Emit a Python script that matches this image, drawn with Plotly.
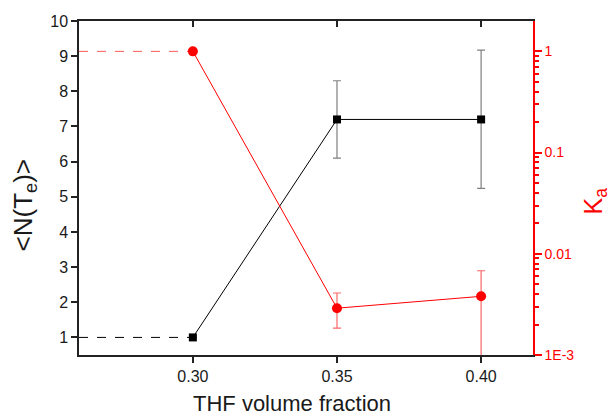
import plotly.graph_objects as go

# ---- data ----
thf = [0.30, 0.35, 0.40]
n_te = [1.0, 7.2, 7.2]
n_te_err_plus = [None, 1.1, 1.97]
n_te_err_minus = [None, 1.1, 1.96]
ka = [1.0, 0.0029, 0.0038]
ka_err_plus = [None, 0.0012, 0.0030]
ka_err_minus = [None, 0.00106, 0.0033]

x_tickvals = [0.30, 0.35, 0.40]
x_ticktext = ["0.30", "0.35", "0.40"]
y2_tickvals = [1, 0.1, 0.01, 0.001]
y2_ticktext = ["1", "0.1", "0.01", "1E-3"]
y2_minor_vals = [m * d for d in (0.001, 0.01, 0.1) for m in range(2, 10)]
x_range = [0.2605, 0.418]
y_range = [0.5, 10]
y2_range = [-3, 0.3]

FONT = "Arial, Liberation Sans, sans-serif"
RED = "#ff0000"

fig = go.Figure()

# lead-in dashed lines from the left axis to the first points
fig.add_trace(go.Scatter(x=[x_range[0], thf[0]], y=[n_te[0], n_te[0]], mode="lines",
                         line=dict(color="black", width=1, dash="dash"),
                         showlegend=False, hoverinfo="skip"))
fig.add_trace(go.Scatter(x=[x_range[0], thf[0]], y=[ka[0], ka[0]], mode="lines",
                         line=dict(color="rgba(255,0,0,0.65)", width=1, dash="dash"),
                         yaxis="y2", showlegend=False, hoverinfo="skip"))

fig.add_trace(go.Scatter(
    x=thf, y=n_te, mode="lines+markers",
    line=dict(color="black", width=1),
    marker=dict(symbol="square", size=8, color="black"),
    error_y=dict(type="data", symmetric=False, array=n_te_err_plus,
                 arrayminus=n_te_err_minus, color="rgba(0,0,0,0.5)",
                 thickness=1.2, width=4),
    showlegend=False))

fig.add_trace(go.Scatter(
    x=thf, y=ka, mode="lines+markers", yaxis="y2",
    line=dict(color=RED, width=1),
    marker=dict(symbol="circle", size=10, color=RED),
    error_y=dict(type="data", symmetric=False, array=ka_err_plus,
                 arrayminus=ka_err_minus, color="rgba(255,0,0,0.6)",
                 thickness=1.2, width=4),
    showlegend=False))

# invisible traces that activate the top tick axis and the minor-tick axis
fig.add_trace(go.Scatter(x=thf, y=n_te, xaxis="x2", mode="markers",
                         marker=dict(opacity=0), showlegend=False, hoverinfo="skip"))
fig.add_trace(go.Scatter(x=thf, y=ka, yaxis="y3", mode="markers",
                         marker=dict(opacity=0), showlegend=False, hoverinfo="skip"))

fig.update_layout(
    width=610, height=418,
    margin=dict(l=79, r=77, t=21, b=63),
    paper_bgcolor="white", plot_bgcolor="white",
    font=dict(family=FONT, color="#1a1a1a"),
    xaxis=dict(range=x_range, tickvals=x_tickvals, ticktext=x_ticktext,
               showgrid=False, zeroline=False, showline=True, linecolor="#222",
               linewidth=1.5, ticks="outside", ticklen=6, tickcolor="#222",
               tickwidth=1.5,
               tickfont=dict(size=16, family=FONT, color="#1a1a1a")),
    xaxis2=dict(range=x_range, tickvals=x_tickvals, overlaying="x", side="top",
                anchor="y", showgrid=False, zeroline=False, showline=True,
                linecolor="#222", linewidth=1.5, ticks="inside", ticklen=6,
                tickcolor="#222", tickwidth=1.5, showticklabels=False),
    yaxis=dict(range=y_range, dtick=1, tick0=0, showgrid=False, zeroline=False,
               showline=True, linecolor="#222", linewidth=1.5,
               ticks="outside", ticklen=6, tickcolor="#222", tickwidth=1.5,
               tickfont=dict(size=16, family=FONT, color="#1a1a1a")),
    yaxis2=dict(type="log", range=y2_range, overlaying="y", side="right",
                anchor="x", showgrid=False, zeroline=False, showline=True,
                linecolor=RED, linewidth=1.5, ticks="outside", ticklen=7,
                tickwidth=1.5,
                tickcolor=RED, tickvals=y2_tickvals, ticktext=y2_ticktext,
                tickfont=dict(size=14, family=FONT, color=RED)),
    yaxis3=dict(type="log", range=y2_range, overlaying="y", side="right",
                anchor="x", showgrid=False, zeroline=False, showline=False,
                ticks="outside", ticklen=5, tickwidth=1.5, tickcolor=RED,
                tickvals=y2_minor_vals, showticklabels=False),
    annotations=[
        dict(text="THF volume fraction", xref="paper", yref="paper",
             x=0.469, y=-0.145, xanchor="center", yanchor="middle",
             showarrow=False, font=dict(size=22, family=FONT, color="#1a1a1a")),
        dict(text="<N(T<sub>e</sub>)>", xref="paper", yref="paper",
             x=-0.121, y=0.448, xanchor="center", yanchor="middle", textangle=-90,
             showarrow=False, font=dict(size=26, family=FONT, color="#1a1a1a")),
        dict(text="K<sub>a</sub>", xref="paper", yref="paper",
             x=1.137, y=0.46, xanchor="center", yanchor="middle", textangle=-90,
             showarrow=False, font=dict(size=25, family=FONT, color=RED)),
    ],
)

fig.write_html("out.html", config={"displayModeBar": False},
               post_script="document.body.style.margin='0';document.body.style.padding='0';")
